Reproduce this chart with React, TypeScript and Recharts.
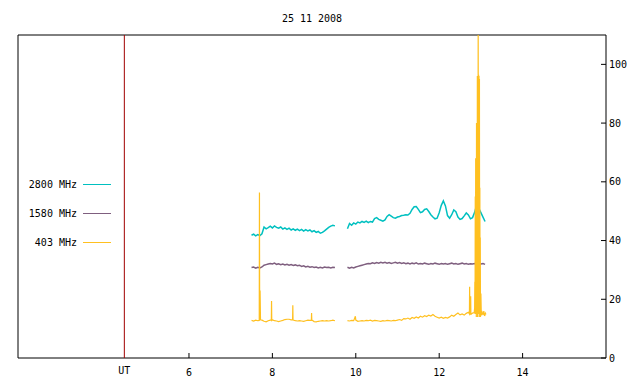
import React from 'react'
import {
  LineChart,
  Line,
  XAxis,
  YAxis,
  ReferenceLine,
  ReferenceArea,
  Legend
} from 'recharts'

// time grid of the receiver records (hours UT)
const SEG1_START = 7.5
const SEG2_START = 9.8
const STEP = 0.05
const GAP_T = 9.65
const TIME_UT = 4.45
const X_DOMAIN = [1.9, 16]
const Y_DOMAIN = [0, 110]

const X_TICKS = [6, 8, 10, 12, 14]
const Y_TICKS = [0, 20, 40, 60, 80, 100]

const NAMES = ['2800 MHz', '1580 MHz', '403 MHz']
const COLORS = ['#00c0c0', '#7f5f7f', '#ffc020']
const WIDTHS = [1.5, 1.5, 1.2]

const FONT = '"DejaVu Sans Mono", monospace'
const tickFont = { fontFamily: FONT, fontSize: 10, fill: '#000' }

// 2800 MHz
const f2800a = [
  41.8, 42.2, 41.6, 42.0, 41.7, 42.3, 44.6, 44.0, 44.4, 44.9,
  44.3, 45.0, 44.5, 44.2, 44.6, 43.9, 44.3, 43.8, 44.2, 43.6,
  44.0, 43.5, 43.9, 43.4, 43.8, 43.2, 43.7, 43.3, 43.6, 43.0,
  43.4, 42.8, 43.1, 42.5, 42.8, 43.3, 43.9, 44.5, 44.9, 45.2,
  45.0
]
const f2800b = [
  44.0, 45.8, 45.2, 46.0, 45.6, 46.3, 46.0, 46.5, 46.2, 46.6,
  46.1, 46.5, 46.3, 47.5, 47.8, 47.2, 46.9, 46.6, 47.0, 48.2,
  48.8, 48.3, 47.8, 47.6, 48.0, 48.2, 48.5, 48.6, 48.8, 48.7,
  49.3, 50.6, 51.5, 51.6, 50.6, 49.5, 49.8, 50.6, 50.8, 49.9,
  48.8, 48.0, 47.4, 47.6, 49.5, 52.0, 53.5, 51.8, 48.5, 47.6,
  48.8, 50.4, 49.8, 48.0, 47.2, 47.5, 48.4, 49.4, 48.7, 47.4,
  47.8, 49.6, 52.2, 51.0, 49.5, 48.0, 46.5
]

// 1580 MHz
const f1580a = [
  30.8, 31.0, 30.6, 30.9, 30.7, 31.0, 31.6, 31.8, 32.0, 32.2,
  32.0, 32.3, 31.9, 32.1, 31.8, 32.0, 31.7, 31.9, 31.6, 31.8,
  31.5, 31.7, 31.4, 31.6, 31.2, 31.4, 31.0, 31.2, 30.9, 31.1,
  30.8, 31.0, 30.7, 30.9, 30.7, 31.0, 30.8, 30.9, 30.7, 30.9,
  30.8
]
const f1580b = [
  30.9, 30.6, 30.9, 30.7, 31.0, 31.2, 31.4, 31.6, 31.8, 32.0,
  32.2, 32.1, 32.4, 32.2, 32.5, 32.3, 32.6, 32.4, 32.6, 32.3,
  32.5, 32.2, 32.4, 32.6, 32.3, 32.5, 32.2, 32.4, 32.1, 32.3,
  32.0, 32.3, 32.1, 32.4, 32.0, 32.2, 32.0, 32.3, 32.1, 31.9,
  32.2, 32.0, 32.3, 32.1, 31.9, 32.2, 32.0, 32.2, 31.9, 32.1,
  32.3, 32.0, 32.2, 31.9, 32.1, 32.3, 32.0, 32.2, 31.9, 32.1,
  32.0, 32.2, 31.9, 32.1, 32.0, 32.2, 31.9
]

// 403 MHz (second block on the grid only up to 12.80, the burst is listed apart)
const f403a = [
  12.8, 12.6, 12.9, 12.7, 13.2, 12.9, 12.5, 12.3, 12.7, 12.9,
  13.0, 12.7, 12.6, 12.4, 12.6, 12.8, 13.1, 13.2, 13.2, 13.0,
  12.9, 12.7, 12.6, 12.7, 12.6, 12.5, 12.7, 12.9, 12.8, 12.9,
  12.4, 12.3, 12.5, 12.6, 12.7, 12.6, 12.7, 12.6, 12.7, 12.9,
  12.7
]
const f403b = [
  12.7, 12.6, 12.8, 12.7, 12.9, 12.5, 12.6, 12.7, 12.6, 12.8,
  12.7, 12.9, 12.6, 12.8, 12.7, 12.6, 12.5, 12.7, 12.6, 12.8,
  12.7, 12.6, 12.8, 12.7, 12.9, 13.1, 12.8, 13.4, 13.3, 13.6,
  13.2, 13.8, 13.5, 14.0, 13.6, 14.2, 13.9, 14.4, 14.1, 14.6,
  14.3, 14.8, 14.2, 13.9, 13.6, 13.9, 13.5, 13.8, 13.6, 14.0,
  14.6, 14.2, 14.8, 15.3, 14.7, 15.0, 14.6, 15.2, 15.6, 14.8,
  15.3
]
const f403spikeT = [
  7.685, 7.69, 7.695, 7.705, 7.715,
  7.975, 7.98, 7.985,
  8.485, 8.49, 8.495,
  8.935, 8.94, 8.945,
  9.99,
  12.725, 12.73, 12.735, 12.755, 12.76, 12.765,
  12.84, 12.85, 12.855, 12.86, 12.865, 12.87, 12.875, 12.88, 12.885, 12.89,
  12.895, 12.9, 12.905, 12.91, 12.915, 12.92, 12.925, 12.93, 12.935, 12.94,
  12.945, 12.95, 12.955, 12.96, 12.965, 12.97, 12.975, 12.98, 12.985, 12.99,
  13.0, 13.01, 13.02,
  13.05, 13.07, 13.09, 13.11, 13.12
]
const f403spikeV = [
  12.8, 56.4, 13.5, 23.0, 13.0,
  12.9, 19.4, 12.8,
  13.0, 18.0, 13.1,
  12.8, 15.3, 12.9,
  14.2,
  15.0, 24.3, 15.2, 21.0, 15.1, 14.9,
  15.5, 17.0, 26.0, 15.0, 55.0, 16.0, 68.0, 15.0, 62.0, 14.0,
  80.0, 16.0, 75.0, 15.0, 96.0, 14.0, 96.0, 16.0, 115.0, 15.0,
  96.5, 17.0, 96.0, 14.0, 95.0, 20.0, 58.0, 15.0, 41.0, 14.0,
  22.0, 14.5, 16.0,
  14.6, 16.0, 14.3, 15.2, 14.8
]

type Pt = { t: number; v: number | null }

function buildSeries(a: number[], b: number[], extraT: number[] = [], extraV: number[] = []): Pt[] {
  const pts: Pt[] = []
  a.forEach((v, i) => pts.push({ t: +(SEG1_START + i * STEP).toFixed(3), v }))
  pts.push({ t: GAP_T, v: null })
  b.forEach((v, i) => pts.push({ t: +(SEG2_START + i * STEP).toFixed(3), v }))
  extraT.forEach((t, i) => pts.push({ t, v: extraV[i] }))
  return pts.sort((p, q) => p.t - q.t)
}

const series = [
  buildSeries(f2800a, f2800b),
  buildSeries(f1580a, f1580b),
  buildSeries(f403a, f403b, f403spikeT, f403spikeV)
]

const renderLegend = () => (
  <svg width={130} height={100}>
    {NAMES.map((name, i) => (
      <g key={name}>
        <text x={77} y={24 + i * 29} textAnchor="end" dominantBaseline="central" {...tickFont}>
          {name}
        </text>
        <line x1={83} x2={111} y1={24.5 + i * 29} y2={24.5 + i * 29} stroke={COLORS[i]} />
      </g>
    ))}
  </svg>
)

export default function App() {
  return (
    <div style={{ position: 'absolute', left: 0, top: 0, width: 640, height: 384, background: '#fff' }}>
      <svg width={640} height={40} style={{ position: 'absolute', left: 0, top: 0 }}>
        <text x={312} y={22} textAnchor="middle" {...tickFont}>
          25 11 2008
        </text>
      </svg>
      <LineChart width={640} height={384} margin={{ top: 34, right: 0, bottom: 0, left: 18 }}>
        <XAxis
          dataKey="t"
          type="number"
          domain={X_DOMAIN}
          allowDataOverflow
          ticks={X_TICKS}
          interval={0}
          height={26}
          tickSize={5}
          tickMargin={6}
          tickLine={{ stroke: '#000', transform: 'translate(0,-5)' }}
          tick={tickFont}
          axisLine={false}
        />
        <XAxis
          xAxisId="top"
          orientation="top"
          dataKey="t"
          type="number"
          domain={X_DOMAIN}
          allowDataOverflow
          ticks={X_TICKS}
          interval={0}
          height={1}
          tickSize={5}
          tickLine={{ stroke: '#000', transform: 'translate(0,5)' }}
          tick={false}
          axisLine={false}
        />
        <YAxis
          orientation="right"
          type="number"
          domain={Y_DOMAIN}
          allowDataOverflow
          ticks={Y_TICKS}
          interval={0}
          width={34}
          tickSize={5}
          tickMargin={-2}
          tickLine={{ stroke: '#000', transform: 'translate(-5,0)' }}
          tick={tickFont}
          axisLine={false}
        />
        <ReferenceArea
          x1={X_DOMAIN[0]}
          x2={X_DOMAIN[1]}
          y1={Y_DOMAIN[0]}
          y2={Y_DOMAIN[1]}
          fill="none"
          stroke="#000"
          strokeWidth={1}
        />
        <ReferenceLine
          x={TIME_UT}
          stroke="#a00000"
          label={{ value: 'UT', position: 'bottom', offset: 9, ...tickFont }}
        />
        {series.map((data, i) => (
          <Line
            key={NAMES[i]}
            data={data}
            dataKey="v"
            name={NAMES[i]}
            type="linear"
            stroke={COLORS[i]}
            strokeWidth={WIDTHS[i]}
            dot={false}
            connectNulls={false}
            isAnimationActive={false}
          />
        ))}
        <Legend
          layout="vertical"
          align="center"
          verticalAlign="middle"
          content={renderLegend}
          wrapperStyle={{ position: 'absolute', left: 0, top: 160, width: 130, height: 100 }}
        />
      </LineChart>
    </div>
  )
}
